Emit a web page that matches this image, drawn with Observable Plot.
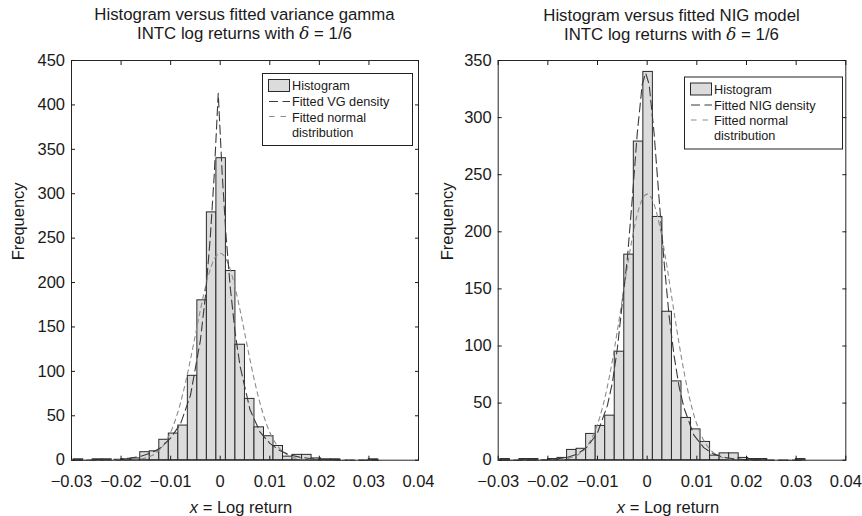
<!DOCTYPE html>
<html>
<head>
<meta charset="utf-8">
<script src="https://cdn.jsdelivr.net/npm/d3@7"></script>
<script src="https://cdn.jsdelivr.net/npm/@observablehq/plot@0.6"></script>
<style>
  body { margin: 0; background: #fff; }
  #chart { position: relative; width: 862px; height: 516px; background: #fff; }
  #chart svg { position: absolute; top: 0; }
</style>
</head>
<body>
<div id="chart"></div>
<script>
// INTC log returns, 32 equal-width histogram bins (edges and counts)
const binEdges = [
  -0.02957, -0.02765, -0.02573, -0.02381, -0.02189, -0.01997, -0.01805, -0.01613,
  -0.01421, -0.01229, -0.01037, -0.00845, -0.00653, -0.00461, -0.00269, -0.00077,
   0.00115,  0.00307,  0.00499,  0.00691,  0.00883,  0.01075,  0.01267,  0.01459,
   0.01651,  0.01843,  0.02035,  0.02227,  0.02419,  0.02611,  0.02803,  0.02995,
   0.03187
];
const binCounts = [
  1, 0, 1, 1, 0, 1, 2, 9, 10, 23, 30, 39, 95, 180, 279, 340,
  213, 130, 69, 37, 27, 16, 4, 6, 6, 2, 1, 1, 0, 0, 0, 1
];

// Fitted variance gamma density, scaled to frequency
const vgX = [-0.0296, -0.028, -0.026, -0.024, -0.022, -0.020, -0.018, -0.016, -0.014, -0.012,
  -0.010, -0.008, -0.006, -0.004, -0.003, -0.002, -0.0012, -0.0004, 0.0004, 0.0012,
  0.002, 0.003, 0.004, 0.006, 0.008, 0.010, 0.012, 0.014, 0.016, 0.018,
  0.020, 0.022, 0.024, 0.026, 0.028, 0.030, 0.0319];
const vgY = [0.09, 0.14, 0.25, 0.45, 0.8, 1.4, 2.5, 4.5, 8, 14,
  25, 41, 73, 135, 184, 251, 322, 413, 322, 251,
  196, 144, 106, 57, 32, 19, 11, 6, 3.5, 2,
  1.1, 0.6, 0.35, 0.2, 0.1, 0.06, 0.04];

// Fitted NIG density, scaled to frequency
const nigX = [-0.0296, -0.026, -0.022, -0.020, -0.018, -0.016, -0.014, -0.012, -0.010, -0.008,
  -0.007, -0.006, -0.005, -0.004, -0.003, -0.002, -0.001, -0.0003, 0.0004, 0.0014,
  0.0024, 0.0034, 0.0044, 0.0054, 0.0064, 0.0074, 0.0094, 0.0114, 0.0134, 0.0154,
  0.0174, 0.0194, 0.022, 0.026, 0.0319];
const nigY = [0.02, 0.06, 0.3, 0.6, 1.3, 2.6, 5.5, 12, 24, 48,
  68, 98, 138, 176, 229, 286, 329, 339, 329, 286,
  229, 174, 127, 92, 65, 46, 22, 11, 5.3, 2.5,
  1.2, 0.6, 0.25, 0.06, 0.01];

// Fitted normal distribution, scaled to frequency
const normX = [-0.0296, -0.026, -0.022, -0.020, -0.018, -0.016, -0.015, -0.014, -0.013, -0.012,
  -0.011, -0.010, -0.009, -0.008, -0.007, -0.006, -0.005, -0.004, -0.003, -0.002,
  -0.001, 0, 0.001, 0.002, 0.003, 0.004, 0.005, 0.006, 0.007, 0.008,
  0.009, 0.010, 0.011, 0.012, 0.013, 0.014, 0.015, 0.016, 0.018, 0.020,
  0.022, 0.026, 0.0319];
const normY = [0, 0, 0.02, 0.08, 0.36, 1.4, 2.6, 4.6, 7.9, 13.1,
  20.7, 31.5, 46.1, 64.8, 87.4, 113.4, 141.3, 169.2, 194.6, 215.1,
  228.4, 233, 228.4, 215.1, 194.6, 169.2, 141.3, 113.4, 87.4, 64.8,
  46.1, 31.5, 20.7, 13.1, 7.9, 4.6, 2.6, 1.4, 0.36, 0.08,
  0.02, 0, 0];

// Axis ticks
const xTicks = [-0.03, -0.02, -0.01, 0, 0.01, 0.02, 0.03, 0.04];
const yTicksVG = [0, 50, 100, 150, 200, 250, 300, 350, 400, 450];
const yTicksNIG = [0, 50, 100, 150, 200, 250, 300, 350];

const FONT = '"Liberation Sans", Arial, Helvetica, sans-serif';
const bins = binCounts.map((c, i) => ({x1: binEdges[i], x2: binEdges[i + 1], count: c}));
const pts = (xs, ys) => xs.map((x, i) => ({x, y: ys[i]}));

function panel({fitted, yMax, yTicks, marginLeft, marginRight, labelDx}) {
  return Plot.plot({
    width: 431,
    height: 516,
    marginLeft,
    marginRight,
    marginTop: 60,
    marginBottom: 56.3,
    x: {domain: [-0.03, 0.04]},
    y: {domain: [0, yMax]},
    style: {fontFamily: FONT, fontSize: "16.5px", color: "#1a1a1a", background: "none", overflow: "visible"},
    marks: [
      Plot.rectY(bins, {x1: "x1", x2: "x2", y1: 0, y2: "count", fill: "#dcdcdc", stroke: "#2a2a2a", strokeWidth: 1, inset: 0}),
      Plot.line(pts(normX, normY), {x: "x", y: "y", stroke: "#8c8c8c", strokeWidth: 1.1, strokeDasharray: "4.5,4", curve: "monotone-x"}),
      Plot.line(fitted, {x: "x", y: "y", stroke: "#3a3a3a", strokeWidth: 1.1, strokeDasharray: "9,4.5"}),
      Plot.frame({stroke: "#262626", strokeWidth: 1}),
      Plot.axisX(xTicks, {anchor: "bottom", tickSize: -4, tickPadding: 19, tickFormat: d3.format("~g"), label: null}),
      Plot.axisX(xTicks, {anchor: "top", tickSize: -4, tickFormat: () => "", label: null}),
      Plot.axisY(yTicks, {anchor: "left", tickSize: -4, tickPadding: 10.5, tickFormat: d3.format("d"), label: null}),
      Plot.axisY(yTicks, {anchor: "right", tickSize: -4, tickFormat: () => "", label: null}),
      Plot.text(["Frequency"], {text: d => d, frameAnchor: "left", rotate: -90, dx: labelDx, fontSize: 16.5, fill: "#1a1a1a"})
    ]
  });
}

const chart = document.getElementById("chart");

const left = panel({fitted: pts(vgX, vgY), yMax: 450, yTicks: yTicksVG, marginLeft: 71, marginRight: 13, labelDx: -53});
left.style.left = "0px";
chart.appendChild(left);

const right = panel({fitted: pts(nigX, nigY), yMax: 350, yTicks: yTicksNIG, marginLeft: 66.7, marginRight: 16.7, labelDx: -50.7});
right.style.left = "431px";
chart.appendChild(right);

// Titles, x labels and legends
const overlay = d3.create("svg")
  .attr("width", 862).attr("height", 516)
  .style("left", "0px").style("pointer-events", "none")
  .style("font-family", FONT).style("fill", "#1a1a1a");

function title(cx, line1, y1, y2) {
  overlay.append("text").attr("x", cx).attr("y", y1).attr("text-anchor", "middle")
    .attr("font-size", 16.8).text(line1);
  const t = overlay.append("text").attr("x", cx).attr("y", y2).attr("text-anchor", "middle")
    .attr("font-size", 16.8);
  t.append("tspan").text("INTC log returns with ");
  t.append("tspan").attr("font-style", "italic").attr("font-family", '"DejaVu Serif", "Liberation Serif", serif').text("δ");
  t.append("tspan").text(" = 1/6");
}
function xLabel(cx) {
  const t = overlay.append("text").attr("x", cx).attr("y", 513).attr("text-anchor", "middle")
    .attr("font-size", 16.5);
  t.append("tspan").attr("font-style", "italic").text("x");
  t.append("tspan").text(" = Log return");
}
function legend(x, y, w, h, fittedName) {
  const g = overlay.append("g").attr("font-size", 12.7);
  g.append("rect").attr("x", x + 0.5).attr("y", y + 0.5).attr("width", w).attr("height", h)
    .attr("fill", "#fff").attr("stroke", "#222").attr("stroke-width", 1);
  const sx = x + 6, tx = x + 30;
  g.append("rect").attr("x", sx + 0.5).attr("y", y + 6.5).attr("width", 21).attr("height", 12)
    .attr("fill", "#dcdcdc").attr("stroke", "#2a2a2a");
  g.append("text").attr("x", tx).attr("y", y + 17).text("Histogram");
  g.append("line").attr("x1", sx + 1).attr("x2", sx + 22).attr("y1", y + 28.5).attr("y2", y + 28.5)
    .attr("stroke", "#3a3a3a").attr("stroke-width", 1.1).attr("stroke-dasharray", "9,4.5");
  g.append("text").attr("x", tx).attr("y", y + 33).text(fittedName);
  g.append("line").attr("x1", sx + 1).attr("x2", sx + 22).attr("y1", y + 43.5).attr("y2", y + 43.5)
    .attr("stroke", "#8c8c8c").attr("stroke-width", 1.1).attr("stroke-dasharray", "5.5,6");
  g.append("text").attr("x", tx).attr("y", y + 48.5).text("Fitted normal");
  g.append("text").attr("x", tx).attr("y", y + 63.5).text("distribution");
}

title(244.5, "Histogram versus fitted variance gamma", 20.3, 39.3);
title(671.5, "Histogram versus fitted NIG model", 20.6, 39.6);
xLabel(241);
xLabel(668);
legend(262, 73, 150, 72, "Fitted VG density");
legend(684, 76.5, 158, 72, "Fitted NIG density");

chart.appendChild(overlay.node());
</script>
</body>
</html>
